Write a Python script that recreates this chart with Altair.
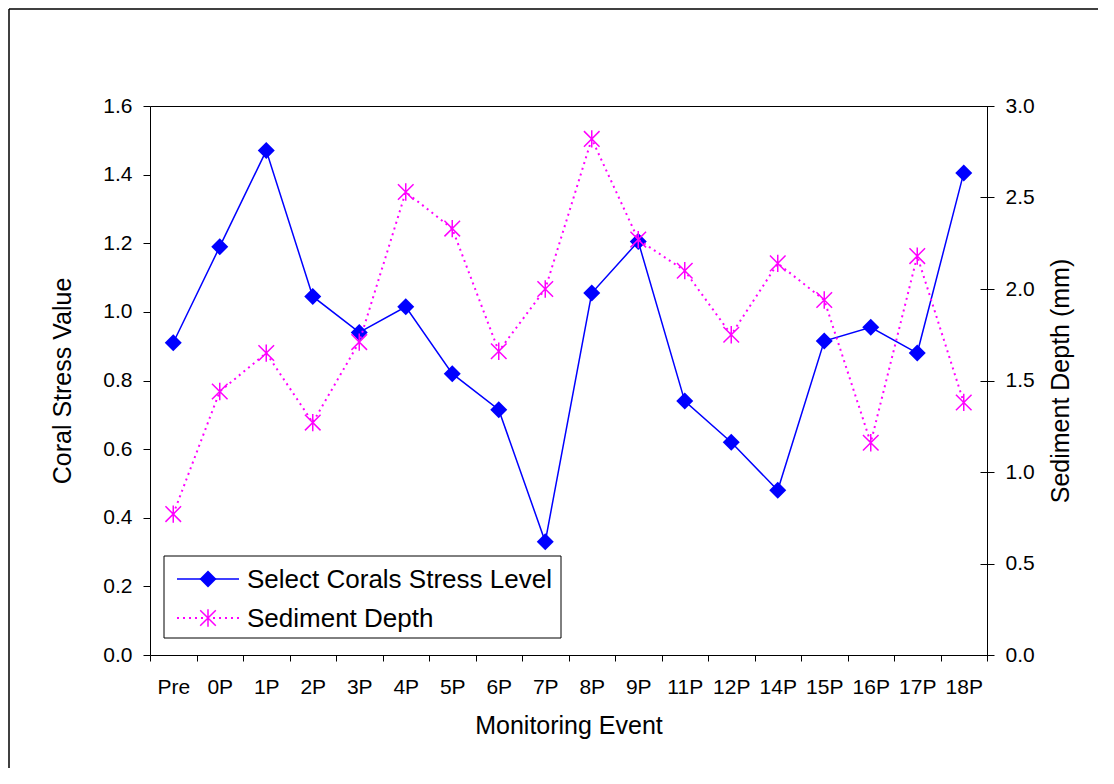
import altair as alt
import pandas as pd

events = ["Pre", "0P", "1P", "2P", "3P", "4P", "5P", "6P", "7P", "8P",
          "9P", "11P", "12P", "14P", "15P", "16P", "17P", "18P"]
coral = [0.91, 1.19, 1.47, 1.045, 0.94, 1.015, 0.82, 0.715, 0.33, 1.055,
         1.205, 0.74, 0.62, 0.48, 0.915, 0.955, 0.88, 1.405]
sediment = [0.77, 1.44, 1.65, 1.27, 1.71, 2.53, 2.33, 1.66, 2.0, 2.82,
            2.27, 2.10, 1.75, 2.14, 1.94, 1.16, 2.18, 1.38]
left_ticks = [0.0, 0.2, 0.4, 0.6, 0.8, 1.0, 1.2, 1.4, 1.6]
right_ticks = [0.0, 0.5, 1.0, 1.5, 2.0, 2.5, 3.0]
series_names = ["Select Corals Stress Level", "Sediment Depth"]

FONT = "Liberation Sans"
BLUE = "#0000FF"
MAGENTA = "#FF00FF"
ASTERISK = "M0,-1V1M-0.9,-0.9L0.9,0.9M-0.9,0.9L0.9,-0.9"

W, H = 837, 549

df = pd.DataFrame({"event": events, "coral": coral, "sediment": sediment})
one = pd.DataFrame({"a": [0]})

x_enc = alt.X(
    "event:N", sort=events,
    scale=alt.Scale(type="band", paddingInner=0, paddingOuter=0),
    axis=alt.Axis(title="Monitoring Event", labelAngle=0, tickBand="extent",
                  tickSize=6, labelPadding=15, titleY=58, titleX=W / 2,
                  titleBaseline="top", titleAlign="center"),
)

y_left = alt.Y(
    "coral:Q", scale=alt.Scale(domain=[0, 1.6], nice=False, zero=True),
    axis=alt.Axis(orient="left", values=left_ticks, format=".1f",
                  title="Coral Stress Value", tickSize=7, labelPadding=11,
                  titleAngle=270, titleX=-88, titleY=H / 2,
                  titleBaseline="middle", titleAlign="center"),
)
y_left_noaxis = alt.Y("coral:Q", scale=alt.Scale(domain=[0, 1.6], nice=False, zero=True), axis=None)

y_right = alt.Y(
    "sediment:Q", scale=alt.Scale(domain=[0, 3.0], nice=False, zero=True),
    axis=alt.Axis(orient="right", values=right_ticks, format=".1f",
                  title="Sediment Depth (mm)", offset=-7, tickSize=14,
                  labelPadding=11, titleAngle=270, titleX=80, titleY=H / 2,
                  titleBaseline="middle", titleAlign="center"),
)
y_right_noaxis = alt.Y("sediment:Q", scale=alt.Scale(domain=[0, 3.0], nice=False, zero=True), axis=None)

base = alt.Chart(df)

coral_line = base.mark_line(color=BLUE, strokeWidth=1.5).encode(x=x_enc, y=y_left)
coral_pts = base.mark_point(shape="diamond", filled=True, color=BLUE, size=289, opacity=1).encode(
    x=x_enc, y=y_left_noaxis)

sed_line = base.mark_line(color=MAGENTA, strokeWidth=2, strokeDash=[2, 4]).encode(x=x_enc, y=y_right)
sed_pts = base.mark_point(shape=ASTERISK, filled=False, color=MAGENTA, size=300,
                          strokeWidth=1.5, opacity=1).encode(x=x_enc, y=y_right_noaxis)

ob = alt.Chart(one)

# outer frame
frame_left = ob.mark_rule(color="black", strokeWidth=1.5).encode(
    x=alt.value(-141), y=alt.value(-97), y2=alt.value(H + 130))
frame_top = ob.mark_rule(color="black", strokeWidth=1.5).encode(
    x=alt.value(-141), x2=alt.value(W + 130), y=alt.value(-97))

# legend
leg_box = ob.mark_rect(fill="white", stroke="black", strokeWidth=1).encode(
    x=alt.value(14), x2=alt.value(411), y=alt.value(450), y2=alt.value(532))
leg_line1 = ob.mark_rule(color=BLUE, strokeWidth=1.5).encode(
    x=alt.value(27), x2=alt.value(89), y=alt.value(473))
leg_pt1 = ob.mark_point(shape="diamond", filled=True, color=BLUE, size=289, opacity=1).encode(
    x=alt.value(58), y=alt.value(473))
leg_txt1 = ob.mark_text(align="left", baseline="middle", font=FONT, fontSize=26, color="black").encode(
    x=alt.value(97), y=alt.value(474), text=alt.value(series_names[0]))
leg_line2 = ob.mark_rule(color=MAGENTA, strokeWidth=2, strokeDash=[2, 4]).encode(
    x=alt.value(27), x2=alt.value(89), y=alt.value(512))
leg_pt2 = ob.mark_point(shape=ASTERISK, filled=False, color=MAGENTA, size=300,
                        strokeWidth=1.5, opacity=1).encode(x=alt.value(58), y=alt.value(512))
leg_txt2 = ob.mark_text(align="left", baseline="middle", font=FONT, fontSize=26, color="black").encode(
    x=alt.value(97), y=alt.value(513), text=alt.value(series_names[1]))

chart = alt.layer(
    frame_left, frame_top,
    coral_line, coral_pts, sed_line, sed_pts,
    leg_box, leg_line1, leg_pt1, leg_txt1, leg_line2, leg_pt2, leg_txt2,
).resolve_scale(y="independent").properties(
    width=W, height=H,
    autosize=alt.AutoSizeParams(type="none"),
    padding={"left": 142, "top": 98, "right": 111, "bottom": 113},
    background="white",
).configure_view(
    stroke="black", strokeWidth=1
).configure_axis(
    labelFont=FONT, labelFontSize=21, labelColor="black",
    titleFont=FONT, titleFontSize=25, titleFontWeight="normal", titleColor="black",
    tickColor="black", tickWidth=1, grid=False, domain=False,
)

chart.save("out.html", embed_options={"renderer": "svg", "actions": False})
